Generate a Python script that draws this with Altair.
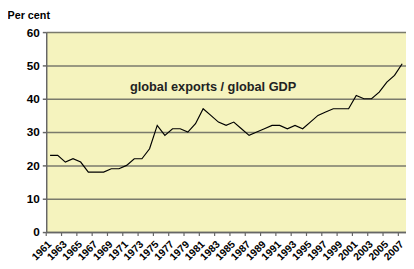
import altair as alt
import pandas as pd

years = list(range(1961, 2008))
ratio = [23, 23, 21, 22, 21, 18, 18, 18, 19, 19,
         20, 22, 22, 25, 32, 29, 31, 31, 30, 32.5,
         37, 35, 33, 32, 33, 31, 29, 30, 31, 32,
         32, 31, 32, 31, 33, 35, 36, 37, 37, 37,
         41, 40, 40, 42, 45, 47, 50.5]
label_years = years[::2]
y_ticks = [0, 10, 20, 30, 40, 50, 60]
tick_bounds = [years[0] - 0.5] + [y + 0.5 for y in years[1::2]]
note_text = ["global exports / global GDP"]
note_x = [1982.3]
note_y = [43.6]

df = pd.DataFrame({"year": years, "ratio": ratio})
ticks_df = pd.DataFrame({"b": tick_bounds})
labels_df = pd.DataFrame({"yr": label_years, "txt": [str(y) for y in label_years]})
note_df = pd.DataFrame({"t": note_text, "x": note_x, "y": note_y})

W, H = 367, 204
FONT = "Liberation Sans"

xscale = alt.Scale(domain=[1960.5, 2007.5], nice=False, zero=False)
yscale = alt.Scale(domain=[0, 60], nice=False)

x_axis = alt.Axis(values=label_years, labels=False, title=None)
y_axis = alt.Axis(values=y_ticks, title="Per cent")

line = alt.Chart(df).mark_line(color="black", strokeWidth=1.2).encode(
    x=alt.X("year:Q", scale=xscale, axis=x_axis),
    y=alt.Y("ratio:Q", scale=yscale, axis=y_axis),
)

ticks = alt.Chart(ticks_df).mark_rule(color="#666666", strokeWidth=1.2).encode(
    x=alt.X("b:Q", scale=xscale, axis=None),
    y=alt.value(H),
    y2=alt.value(H + 4),
)

xlabels = alt.Chart(labels_df).mark_text(
    font=FONT, fontWeight="bold", fontSize=10.5, color="black",
    angle=315, align="right", baseline="middle"
).encode(
    x=alt.X("yr:Q", scale=xscale, axis=None),
    y=alt.value(H + 11),
    text="txt:N",
)

note = alt.Chart(note_df).mark_text(
    font=FONT, fontWeight="bold", fontSize=13, color="#222222",
    align="center", baseline="middle"
).encode(
    x=alt.X("x:Q", scale=xscale, axis=None),
    y=alt.Y("y:Q", scale=yscale, axis=None),
    text="t:N",
)

chart = alt.layer(line, ticks, xlabels, note).resolve_axis(
    x="independent", y="independent"
).properties(
    width=W, height=H,
    autosize=alt.AutoSizeParams(type="none"),
    padding={"left": 39, "top": 22, "right": 0, "bottom": 30},
    background="white",
).configure_view(
    fill="#F5F3BE", stroke=None
).configure_axis(
    labelFont=FONT, labelFontWeight="bold", labelColor="black",
    domainColor="#666666", domainWidth=1.5, labelFlush=False, labelOverlap=False,
).configure_axisX(
    ticks=False, grid=False,
).configure_axisY(
    grid=True, gridColor="#7a7a6c", gridWidth=1.5,
    tickColor="#666666", tickSize=4, tickWidth=1.5,
    labelFontSize=12, labelPadding=3,
    titleAngle=0, titleX=-40, titleY=-14, titleAlign="left",
    titleBaseline="alphabetic", titleFont=FONT, titleFontWeight="bold",
    titleFontSize=11, titleColor="black",
)

chart.save("out.html", embed_options={"renderer": "svg", "actions": False})
